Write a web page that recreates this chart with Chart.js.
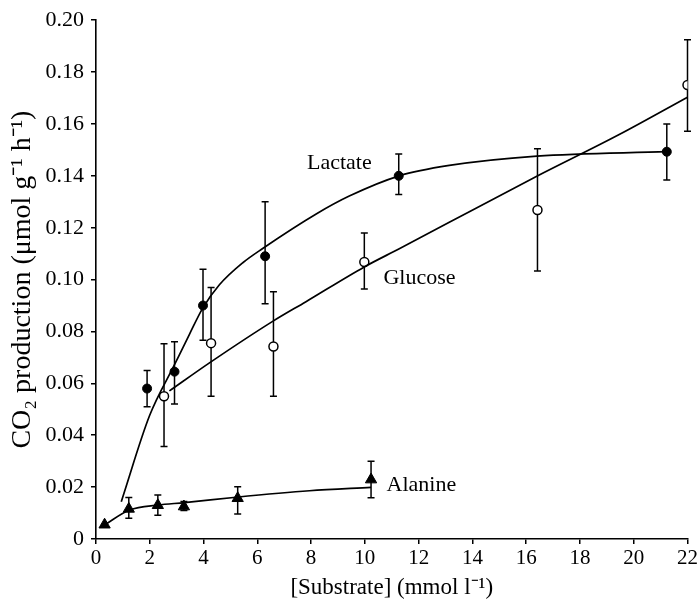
<!DOCTYPE html>
<html>
<head>
<meta charset="utf-8">
<script src="https://cdn.jsdelivr.net/npm/chart.js@4"></script>
<style>
  body { margin: 0; background: #fff; }
  #wrap { width: 700px; height: 606px; }
</style>
</head>
<body>
<div id="wrap"><canvas id="co2Chart" width="700" height="606"></canvas></div>
<script>
const lactateX = [1.9, 2.92, 3.98, 6.29, 11.26, 21.23];
const lactateY = [0.058, 0.0645, 0.090, 0.109, 0.140, 0.1493];
const lactateHi = [0.065, 0.076, 0.104, 0.130, 0.1484, 0.160];
const lactateLo = [0.051, 0.052, 0.0766, 0.0907, 0.1328, 0.1384];

const glucoseX = [2.53, 4.28, 6.6, 9.98, 16.42, 22.0];
const glucoseY = [0.055, 0.0755, 0.0742, 0.1068, 0.1268, 0.175];
const glucoseHi = [0.0753, 0.097, 0.0953, 0.118, 0.1504, 0.1925];
const glucoseLo = [0.0357, 0.055, 0.055, 0.0964, 0.1033, 0.1572];

const alanineX = [0.32, 1.22, 2.3, 3.27, 5.27, 10.23];
const alanineY = [0.0055, 0.0116, 0.013, 0.0125, 0.0157, 0.0229];
const alanineHi = [0.0055, 0.016, 0.017, 0.0145, 0.0201, 0.030];
const alanineLo = [0.0055, 0.008, 0.0092, 0.011, 0.0096, 0.0159];

// fitted curves
const lactateFitX = [0.94, 1.99, 2.92, 3.48, 3.97, 4.59, 5.46, 6.2, 8.19, 9.42, 11.28, 13.14, 16.4, 21.23];
const lactateFitY = [0.0144, 0.0475, 0.0672, 0.079, 0.089, 0.098, 0.1065, 0.112, 0.1253, 0.1322, 0.140, 0.144, 0.1476, 0.1493];
const glucoseFitX = [2.73, 4.22, 6.57, 7.81, 9.98, 11.28, 13.14, 16.43, 19.46, 22.0];
const glucoseFitY = [0.0571, 0.0679, 0.0839, 0.0915, 0.1049, 0.1119, 0.1221, 0.140, 0.1559, 0.1703];
const alanineFitX = [0.32, 1.25, 2.3, 3.29, 5.21, 7.94, 10.23];
const alanineFitY = [0.0055, 0.0112, 0.0131, 0.014, 0.0161, 0.0186, 0.0199];

// curve labels, placed in data units
const curveNames = ['Lactate', 'Glucose', 'Alanine'];
const curveLabelX = [9.05, 12.03, 12.1];
const curveLabelY = [0.145, 0.1004, 0.0208];

const xTicks = [0, 2, 4, 6, 8, 10, 12, 14, 16, 18, 20, 22];
const yTicks = [0, 0.02, 0.04, 0.06, 0.08, 0.10, 0.12, 0.14, 0.16, 0.18, 0.20];

const serif = '"Liberation Serif", "Times New Roman", serif';
Chart.defaults.font.family = serif;
Chart.defaults.color = '#000';

function pts(xs, ys) {
    return xs.map((x, i) => ({ x: x, y: ys[i] }));
}

function fitLine(xs, ys) {
    return {
        data: pts(xs, ys),
        showLine: true,
        borderColor: '#000',
        borderWidth: 1.7,
        pointRadius: 0,
        cubicInterpolationMode: 'monotone',
        fill: false
    };
}

const errorBars = {
    id: 'errorBars',
    beforeDatasetsDraw(chart) {
        const c = chart.ctx;
        const xs = chart.scales.x, ys = chart.scales.y;
        c.save();
        c.strokeStyle = '#000';
        c.lineWidth = 1.5;
        chart.data.datasets.forEach(ds => {
            if (!ds.errHi) return;
            ds.data.forEach((p, i) => {
                const hi = ds.errHi[i], lo = ds.errLo[i];
                if (hi === lo) return;
                const px = xs.getPixelForValue(p.x);
                const top = ys.getPixelForValue(hi);
                const bot = ys.getPixelForValue(lo);
                c.beginPath();
                c.moveTo(px, top); c.lineTo(px, bot);
                c.moveTo(px - 3.5, top); c.lineTo(px + 3.5, top);
                c.moveTo(px - 3.5, bot); c.lineTo(px + 3.5, bot);
                c.stroke();
            });
        });
        c.restore();
    }
};

const curveLabels = {
    id: 'curveLabels',
    afterDatasetsDraw(chart) {
        const c = chart.ctx;
        c.save();
        c.font = '22px ' + serif;
        c.fillStyle = '#000';
        c.textAlign = 'center';
        c.textBaseline = 'middle';
        curveNames.forEach((name, i) => {
            c.fillText(name,
                chart.scales.x.getPixelForValue(curveLabelX[i]),
                chart.scales.y.getPixelForValue(curveLabelY[i]));
        });
        c.restore();
    }
};

const ctx = document.getElementById('co2Chart').getContext('2d');
const co2Chart = new Chart(ctx, {
    type: 'scatter',
    data: {
        datasets: [
            fitLine(lactateFitX, lactateFitY),
            fitLine(glucoseFitX, glucoseFitY),
            fitLine(alanineFitX, alanineFitY),
            {
                data: pts(lactateX, lactateY),
                errHi: lactateHi, errLo: lactateLo,
                pointStyle: 'circle', pointRadius: 4.5,
                backgroundColor: '#000', borderColor: '#000', borderWidth: 1
            },
            {
                data: pts(glucoseX, glucoseY),
                errHi: glucoseHi, errLo: glucoseLo,
                pointStyle: 'circle', pointRadius: 4.5,
                backgroundColor: '#fff', borderColor: '#000', borderWidth: 1.5
            },
            {
                data: pts(alanineX, alanineY),
                errHi: alanineHi, errLo: alanineLo,
                pointStyle: 'triangle', pointRadius: 6.5,
                backgroundColor: '#000', borderColor: '#000', borderWidth: 1
            }
        ]
    },
    options: {
        responsive: false,
        animation: false,
        layout: { padding: { top: 17, right: 12, left: 0, bottom: 0 } },
        plugins: {
            legend: { display: false },
            tooltip: { enabled: false }
        },
        scales: {
            x: {
                type: 'linear',
                min: 0,
                max: 22,
                afterBuildTicks: (scale) => { scale.ticks = xTicks.map(v => ({ value: v })); },
                afterFit: (scale) => { scale.height = 67; },
                border: { display: true, color: '#000', width: 1.6 },
                grid: { drawOnChartArea: false, drawTicks: true, tickLength: 5, color: '#000', lineWidth: 1.5 },
                ticks: { font: { size: 21 }, padding: 2, maxRotation: 0 },
                title: {
                    display: true,
                    text: '[Substrate] (mmol l\u207B\u00B9)',
                    font: { size: 23 },
                    padding: { top: 0, bottom: 4 }
                }
            },
            y: {
                type: 'linear',
                min: 0,
                max: 0.2,
                afterBuildTicks: (scale) => { scale.ticks = yTicks.map(v => ({ value: v })); },
                afterFit: (scale) => { scale.width = 96; },
                border: { display: true, color: '#000', width: 1.6 },
                grid: { drawOnChartArea: false, drawTicks: true, tickLength: 5, color: '#000', lineWidth: 1.5 },
                ticks: {
                    font: { size: 22 },
                    padding: 7,
                    callback: (v) => v === 0 ? '0' : v.toFixed(2)
                },
                title: {
                    display: true,
                    text: 'CO\u2082 production (\u03BCmol g\u207B\u00B9 h\u207B\u00B9)',
                    font: { size: 28 },
                    padding: { top: 6, bottom: 0 }
                }
            }
        }
    },
    plugins: [errorBars, curveLabels]
});
</script>
</body>
</html>
